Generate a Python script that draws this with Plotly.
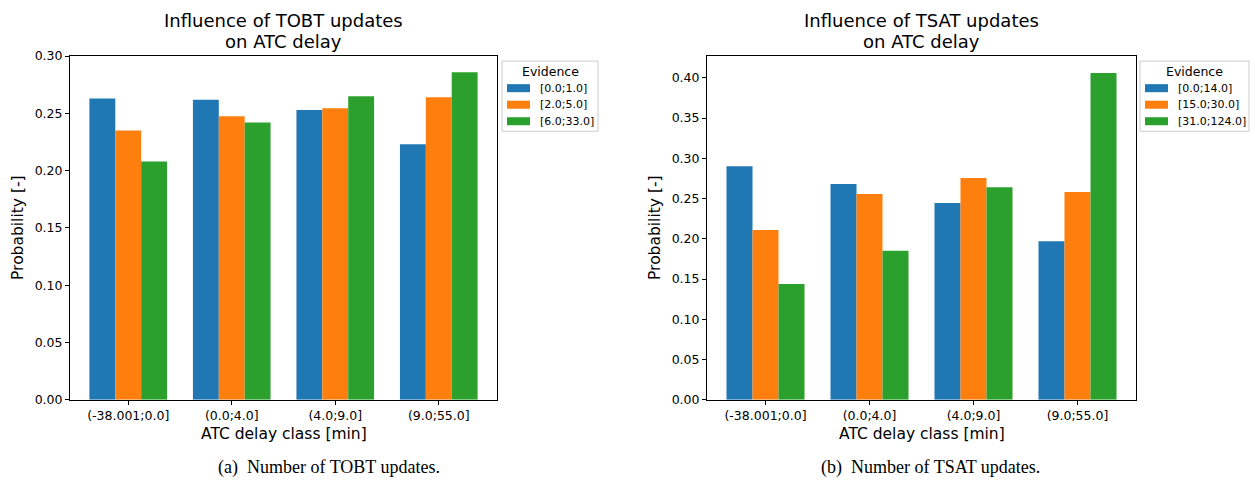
import plotly.graph_objects as go

W, H = 1255, 487

categories = ["(-38.001;0.0]", "(0.0;4.0]", "(4.0;9.0]", "(9.0;55.0]"]

tobt_labels = ["[0.0;1.0]", "[2.0;5.0]", "[6.0;33.0]"]
tobt_values = [
    [0.263, 0.262, 0.253, 0.223],
    [0.235, 0.2475, 0.2545, 0.264],
    [0.208, 0.242, 0.265, 0.286],
]

tsat_labels = ["[0.0;14.0]", "[15.0;30.0]", "[31.0;124.0]"]
tsat_values = [
    [0.290, 0.268, 0.2445, 0.197],
    [0.211, 0.2556, 0.2755, 0.258],
    [0.144, 0.185, 0.264, 0.406],
]

left_ticks = [0.0, 0.05, 0.10, 0.15, 0.20, 0.25, 0.30]
right_ticks = [0.0, 0.05, 0.10, 0.15, 0.20, 0.25, 0.30, 0.35, 0.40]

colors = ["#1f77b4", "#ff7f0e", "#2ca02c"]
FONT = "DejaVu Sans"

# the photographed page shows the figure squeezed into rows 8..479
TOP_PAD, VIS_H = 8, 471


def px(x):
    return x / W


def py(y):
    return 1 - (y - TOP_PAD) / VIS_H


fig = go.Figure()

for i in range(3):
    fig.add_trace(go.Bar(x=categories, y=tobt_values[i], name=tobt_labels[i],
                         marker=dict(color=colors[i], line=dict(width=0)),
                         xaxis="x", yaxis="y", showlegend=False, offsetgroup=str(i)))
for i in range(3):
    fig.add_trace(go.Bar(x=categories, y=tsat_values[i], name=tsat_labels[i],
                         marker=dict(color=colors[i], line=dict(width=0)),
                         xaxis="x2", yaxis="y2", showlegend=False, offsetgroup=str(i)))

plot_top, plot_bot = 56, 399
L = (70, 497)
R = (707, 1136)

axis_common = dict(showline=True, linecolor="black", linewidth=1, mirror=True,
                   ticks="outside", ticklen=4, tickcolor="black", showgrid=False,
                   zeroline=False, tickfont=dict(family=FONT, size=12.5, color="black"))

fig.update_layout(
    width=W, height=H,
    margin=dict(l=0, r=0, t=0, b=0),
    paper_bgcolor="white", plot_bgcolor="white",
    barmode="group", bargap=0.25, bargroupgap=0,
    font=dict(family=FONT, color="black"),
    xaxis=dict(domain=[px(L[0]), px(L[1])], anchor="y", type="category",
               range=[-0.5625, 3.5625], **axis_common),
    yaxis=dict(domain=[py(plot_bot), py(plot_top)], anchor="x", range=[0, 0.30],
               tickvals=left_ticks, tickformat=".2f", **axis_common),
    xaxis2=dict(domain=[px(R[0]), px(R[1])], anchor="y2", type="category",
                range=[-0.5625, 3.5625], **axis_common),
    yaxis2=dict(domain=[py(plot_bot), py(plot_top)], anchor="x2", range=[0, 0.4269],
                tickvals=right_ticks, tickformat=".2f", **axis_common),
)

ann = []
shapes = []


def add_text(x, y, text, size, xanchor="center", yanchor="middle", family=FONT, angle=0):
    ann.append(dict(x=px(x), y=py(y), xref="paper", yref="paper", text=text,
                    showarrow=False, xanchor=xanchor, yanchor=yanchor, textangle=angle,
                    font=dict(family=family, size=size, color="black")))


for (x0, x1), name, cap, capx in [(L, "TOBT", "(a)  Number of TOBT updates.", 329),
                                  (R, "TSAT", "(b)  Number of TSAT updates.", 930)]:
    cx = (x0 + x1) / 2
    add_text(cx, 20, f"Influence of {name} updates", 18)
    add_text(cx, 41, "on ATC delay", 18)
    add_text(cx, 433, "ATC delay class [min]", 15.5)
    add_text(x0 - 52, (plot_top + plot_bot) / 2, "Probability [-]", 15.5, angle=-90)
    add_text(capx, 467, cap, 18, family="Liberation Serif, Times New Roman, serif")


def legend(x0, x1, labels):
    y0, y1 = 61, 131
    shapes.append(dict(type="rect", xref="paper", yref="paper",
                       x0=px(x0), x1=px(x1), y0=py(y1), y1=py(y0),
                       line=dict(color="#cccccc", width=1), fillcolor="white"))
    add_text((x0 + x1) / 2, 71, "Evidence", 12.5)
    for i, lab in enumerate(labels):
        yc = 88 + i * 16.5
        shapes.append(dict(type="rect", xref="paper", yref="paper",
                           x0=px(x0 + 5), x1=px(x0 + 28), y0=py(yc + 4), y1=py(yc - 4),
                           line=dict(width=0), fillcolor=colors[i]))
        add_text(x0 + 36, yc, lab, 11, xanchor="left")


legend(502, 598, tobt_labels)
legend(1140, 1249, tsat_labels)

fig.update_layout(annotations=ann, shapes=shapes)

post = (
    "var gd=document.getElementById('{plot_id}');"
    "document.documentElement.style.margin='0';document.documentElement.style.padding='0';"
    "document.documentElement.style.overflow='hidden';"
    "document.body.style.margin='0';document.body.style.padding='0';"
    "document.body.style.overflow='hidden';"
    "gd.style.position='fixed';gd.style.top='0px';gd.style.left='0px';"
)
fig.write_html("out.html", config={"displayModeBar": False}, post_script=post)
